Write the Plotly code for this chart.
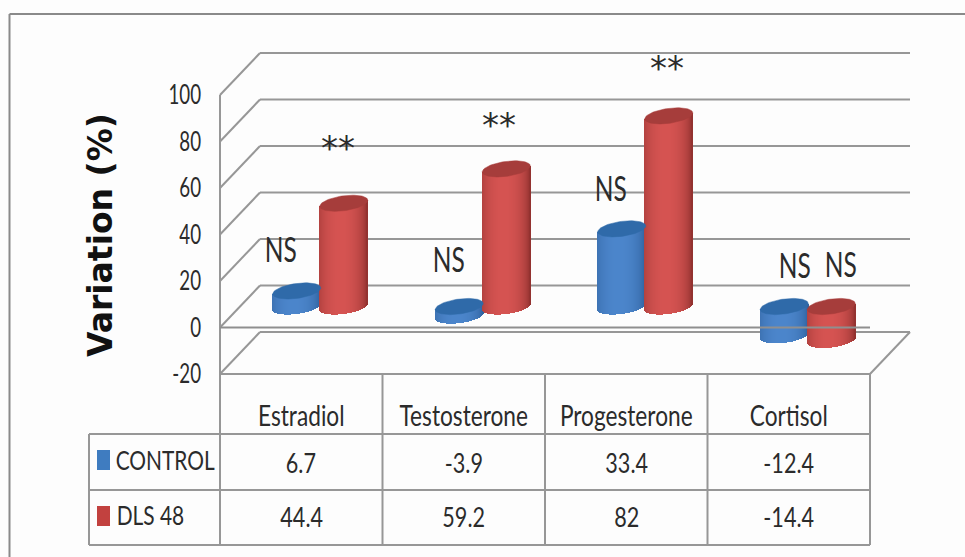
import numpy as np
import plotly.graph_objects as go

categories = ["Estradiol", "Testosterone", "Progesterone", "Cortisol"]
control = [6.7, -3.9, 33.4, -12.4]
dls48 = [44.4, 59.2, 82, -14.4]
control_marks = ["NS", "NS", "NS", "NS"]
dls48_marks = ["**", "**", "**", "NS"]
y_ticks = [-20, 0, 20, 40, 60, 80, 100]

W, H = 965, 557
LEFT, RIGHT, TOP, BOTTOM = 220, 870, 95, 374
PX_Y = (BOTTOM - TOP) / 120
PX_X = (RIGHT - LEFT) / 4
DEPTH_X, DEPTH_Y = 40, 42
GRID = "#979797"
TEXT = "#2b2b2b"
FONT = "Lato, Liberation Sans, sans-serif"


def px(x):
    return x / W


def py(y):
    return 1 - y / H


def line(x0, y0, x1, y1, color=GRID, width=2, layer="below"):
    return dict(type="line", xref="paper", yref="paper", x0=px(x0), y0=py(y0), x1=px(x1), y1=py(y1),
                line=dict(color=color, width=width), layer=layer)


def y_px(v):
    return BOTTOM - (v + 20) * PX_Y


shapes = [line(9.5, 14, W, 14, "#8a8a8a"), line(9.5, 14, 9.5, H, "#8a8a8a")]
# walls and floor
for t in y_ticks:
    y = y_px(t)
    shapes.append(line(LEFT, y, LEFT + DEPTH_X, y - DEPTH_Y))
    shapes.append(line(LEFT + DEPTH_X, y - DEPTH_Y, RIGHT + DEPTH_X, y - DEPTH_Y))
shapes.append(line(LEFT, TOP, LEFT, 434))
shapes.append(line(LEFT, BOTTOM, RIGHT, BOTTOM))
shapes.append(line(RIGHT, BOTTOM, RIGHT + DEPTH_X, BOTTOM - DEPTH_Y))
shapes.append(line(LEFT, y_px(0), RIGHT, y_px(0), "#8f8f8f", 2, "above"))
# data table
for y in (434, 490, 545):
    shapes.append(line(89, y, RIGHT, y))
shapes.append(line(89, 434, 89, 545))
for i in range(5):
    shapes.append(line(LEFT + i * PX_X, BOTTOM if i else 434, LEFT + i * PX_X, 545))
shapes.append(dict(type="rect", xref="paper", yref="paper", x0=px(97), x1=px(110), y0=py(470), y1=py(450),
                   fillcolor="#3f7cc0", line_width=0, layer="above"))
shapes.append(dict(type="rect", xref="paper", yref="paper", x0=px(97), x1=px(110), y0=py(526), y1=py(506),
                   fillcolor="#c2413f", line_width=0, layer="above"))


def shade(u, edge, mid):
    # brightness profile across the cylinder
    s = np.clip(1 - ((u + 0.1) / 1.1) ** 2, 0, 1) ** 0.55
    return ["rgb(%d,%d,%d)" % tuple(np.array(edge) + (np.array(mid) - np.array(edge)) * k) for k in s]


HW = 24 / PX_X
B = 7.5 / PX_Y
K = 3.0 / PX_Y
DX = 19 / PX_X
DY = 21 / PX_Y
N = 48
fig = go.Figure()


def cylinder(center, value, edge, mid, top, name):
    hi, lo = max(value, 0) + DY, min(value, 0) + DY
    u = (np.arange(N) + 0.5) / N * 2 - 1
    xs = center + u * HW
    root = np.sqrt(1 - u ** 2)
    base = lo + K * u - B * root
    upper = hi + K * u
    fig.add_trace(go.Bar(x=xs, y=upper - base, base=base, width=2 * HW / N * 1.15, name=name,
                         marker=dict(color=shade(u, edge, mid), line_width=0),
                         showlegend=False, hoverinfo="skip"))
    t = np.linspace(0, 2 * np.pi, 80)
    fig.add_trace(go.Scatter(x=center + HW * np.cos(t), y=hi + K * np.cos(t) + B * np.sin(t), mode="lines",
                             fill="toself", fillcolor=top, line=dict(color=top, width=0.5),
                             showlegend=False, hoverinfo="skip", cliponaxis=False))


for i in range(4):
    c = i + 0.5 + DX
    cylinder(c - HW * 0.98, control[i], (44, 92, 150), (76, 134, 204), "#2f6aa9", "CONTROL")
    cylinder(c + HW * 0.98, dls48[i], (135, 44, 42), (214, 84, 82), "#a63d3b", "DLS 48")

annotations = []


def note(text, x, y, size=24, xref="paper", yref="paper", xanchor="center", textangle=0, family=FONT, color=TEXT):
    annotations.append(dict(text=text, x=x, y=y, xref=xref, yref=yref, showarrow=False, xanchor=xanchor,
                            yanchor="middle", textangle=textangle, font=dict(family=family, size=size, color=color)))


for i in range(4):
    note(str(control[i]), i + 0.5, py(462), 27, xref="x")
    note(str(dls48[i]), i + 0.5, py(516), 27, xref="x")
note("CONTROL", px(164.5), py(459), 27.5)
note("DLS 48", px(150), py(514), 27.5)
note("<b>Variation (%)</b>", px(100), py(235), 33, textangle=-90, family="DejaVu Sans, sans-serif", color="#111111")

mark_px = [(281, 248), (449, 258), (611, 187), (795, 264)]
red_px = [(338, 148), (499, 125), (667, 68), (841, 263)]
for (x, y), m in zip(mark_px, control_marks):
    note(m, px(x), py(y), 35)
for (x, y), m in zip(red_px, dls48_marks):
    note(m, px(x), py(y), 35 if m == "NS" else 34, family=FONT if m == "NS" else "DejaVu Sans, sans-serif")

fig.update_layout(
    width=W, height=H, margin=dict(l=0, r=0, t=0, b=0, pad=0, autoexpand=False), autosize=False,
    paper_bgcolor="#fdfdfd", plot_bgcolor="rgba(0,0,0,0)", barmode="overlay", bargap=0,
    showlegend=False, shapes=shapes, annotations=annotations,
    xaxis=dict(domain=[LEFT / W, RIGHT / W], range=[0, 4], tickmode="array", tickvals=[0.5, 1.5, 2.5, 3.5],
               ticktext=categories, showgrid=False, zeroline=False, showline=False, ticks="", ticklabelstandoff=23,
               tickfont=dict(family=FONT, size=28, color=TEXT), tickangle=0, fixedrange=True),
    yaxis=dict(domain=[1 - BOTTOM / H, 1 - TOP / H], range=[-20, 100], tickmode="array", tickvals=y_ticks,
               ticktext=[str(t) for t in y_ticks],
               showgrid=False, zeroline=False, showline=False, ticks="", ticklabelstandoff=18,
               tickfont=dict(family=FONT, size=26, color=TEXT), fixedrange=True),
)
fig.update_traces(selector=dict(type="bar"), cliponaxis=False)

# The reference text is horizontally condensed: narrow the real text elements to match.
CONDENSE = """
document.body.style.margin='0';
document.body.style.background='#fdfdfd';
function squeeze(el, k){
  var w = el.getComputedTextLength();
  el.setAttribute('textLength', w * k);
  el.setAttribute('lengthAdjust', 'spacingAndGlyphs');
}
document.querySelectorAll('.xtick text').forEach(function(e){ squeeze(e, 0.81); });
document.querySelectorAll('.ytick text').forEach(function(e){ squeeze(e, 0.72); });
document.querySelectorAll('.annotation-text').forEach(function(e){
  var s = e.textContent;
  if (s === 'NS') squeeze(e, 0.70);
  else if (s === 'CONTROL' || s === 'DLS 48') squeeze(e, 0.76);
  else if (/^-?[0-9.]+$/.test(s)) squeeze(e, 0.80);
});
"""
fig.write_html("out.html", config=dict(displayModeBar=False), post_script=CONDENSE)
